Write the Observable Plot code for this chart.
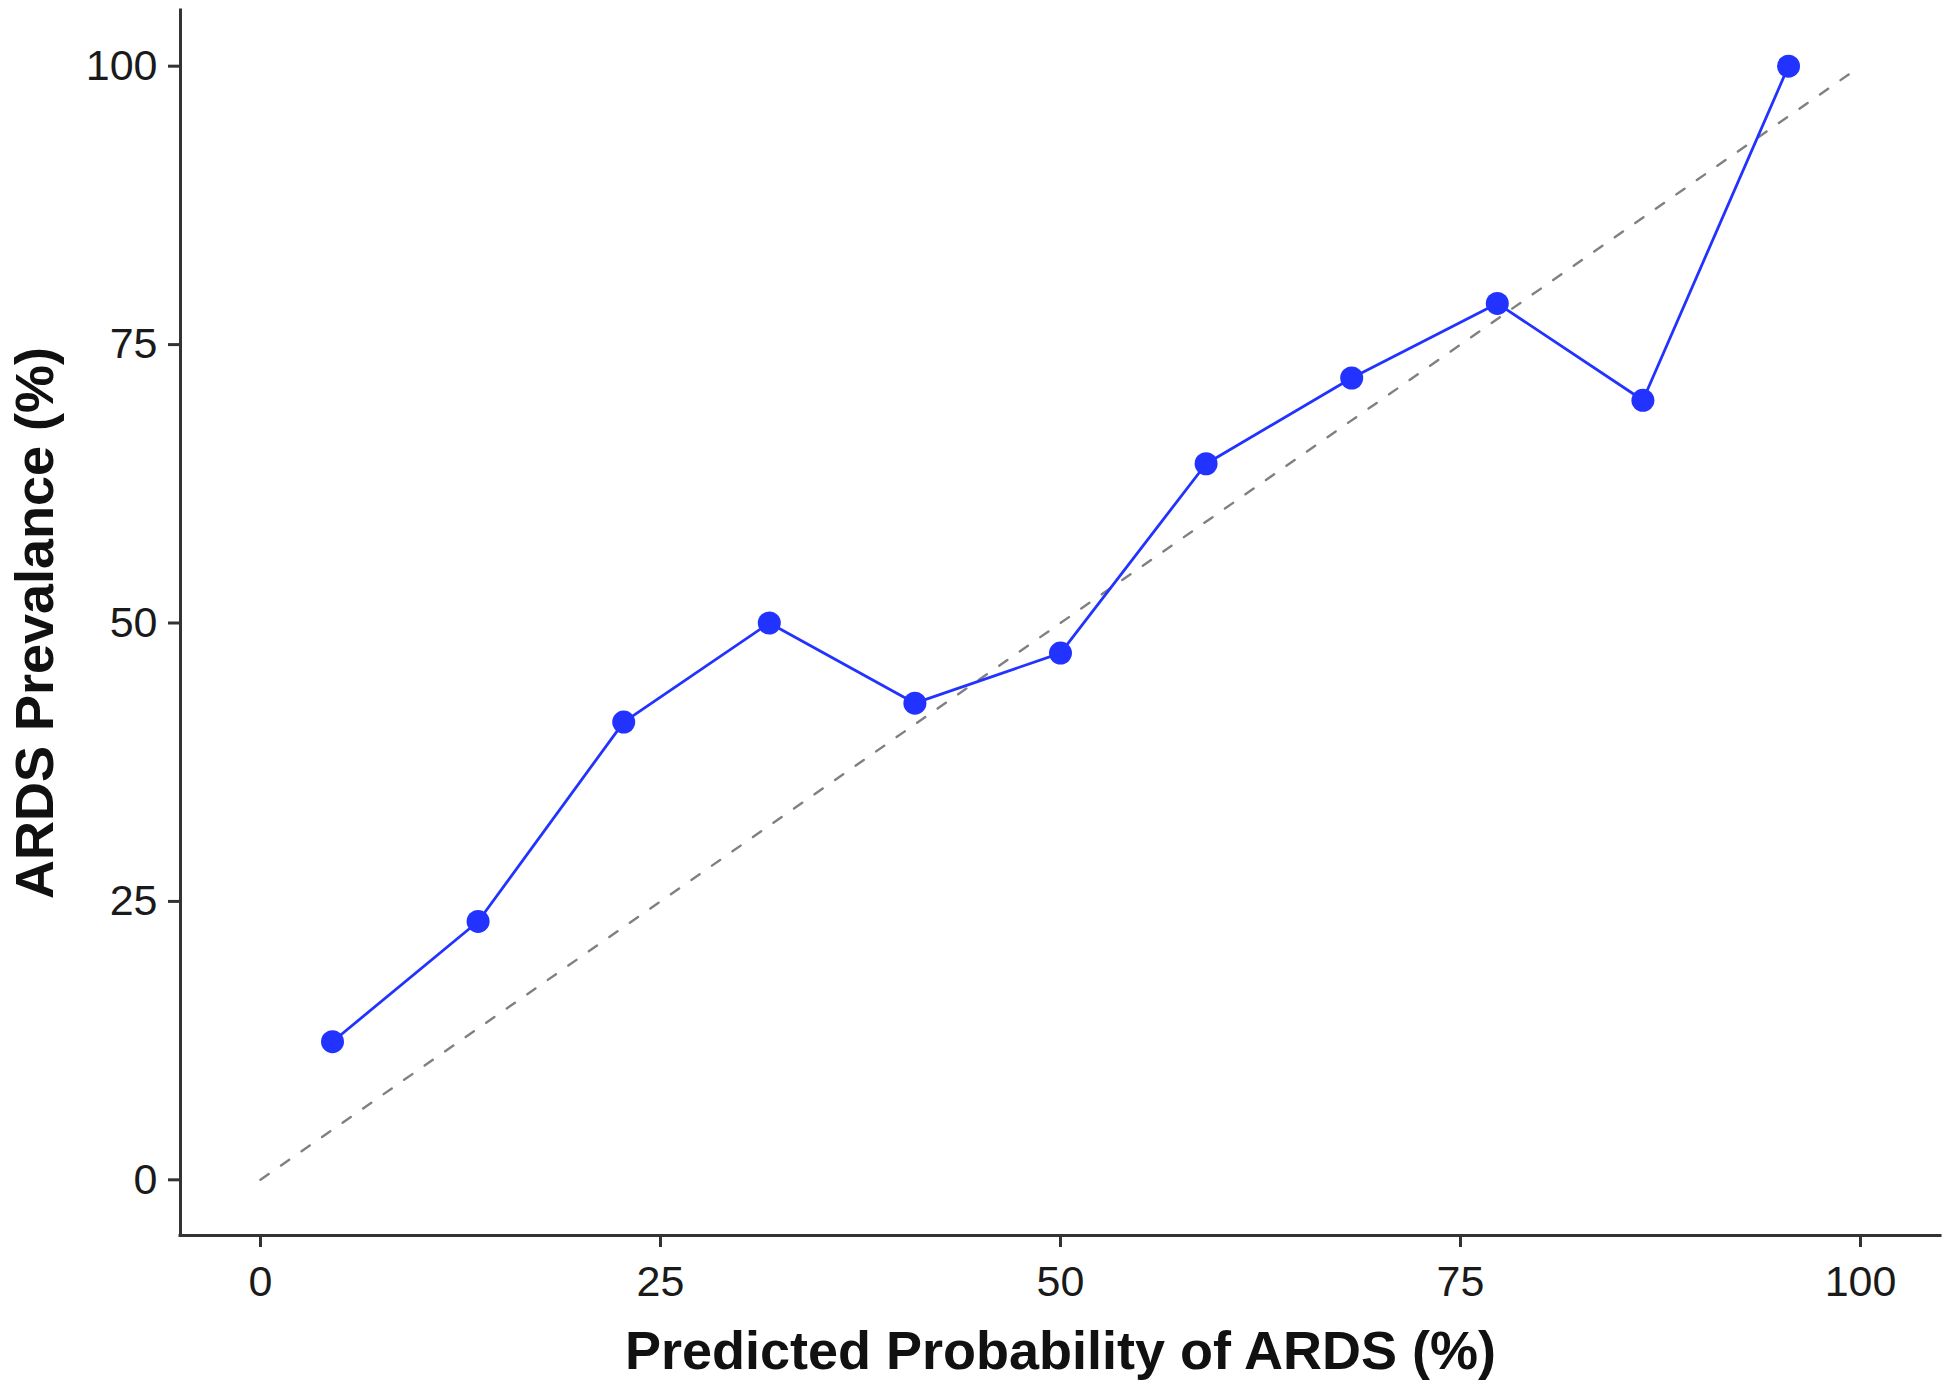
<!DOCTYPE html>
<html>
<head>
<meta charset="utf-8">
<script src="https://cdn.jsdelivr.net/npm/d3@7"></script>
<script src="https://cdn.jsdelivr.net/npm/@observablehq/plot@0.6"></script>
<style>
  html, body { margin: 0; padding: 0; background: #ffffff; }
  #chart svg { display: block; }
</style>
</head>
<body>
<div id="chart"></div>
<script>
// Calibration data
const predicted = [4.5, 13.6, 22.7, 31.8, 40.9, 50.0, 59.1, 68.2, 77.3, 86.4, 95.5];
const observed  = [12.4, 23.2, 41.1, 50.0, 42.8, 47.3, 64.3, 72.0, 78.7, 70.0, 100.0];

// Ideal calibration reference line
const refX = [0, 100];
const refY = [0, 100];

const xTicks = [0, 25, 50, 75, 100];
const yTicks = [0, 25, 50, 75, 100];
const xDomain = [-5, 105];
const yDomain = [-5, 105];

const xTitle = "Predicted Probability of ARDS (%)";
const yTitle = "ARDS Prevalance (%)";

const points = predicted.map((p, i) => ({p, o: observed[i]}));
const ref = refX.map((x, i) => ({x, y: refY[i]}));

const blue = "#2233ff";
const axisColor = "#333333";
const textColor = "#1a1a1a";

const chart = Plot.plot({
  width: 1950,
  height: 1391,
  marginLeft: 180,
  marginRight: 10,
  marginTop: 10,
  marginBottom: 156,
  style: {fontFamily: "'Liberation Sans', Arial, Helvetica, sans-serif", background: "#ffffff", overflow: "visible"},
  x: {domain: xDomain},
  y: {domain: yDomain},
  marks: [
    Plot.ruleX([xDomain[0]], {stroke: axisColor, strokeWidth: 3, strokeLinecap: "square"}),
    Plot.ruleY([yDomain[0]], {stroke: axisColor, strokeWidth: 3, strokeLinecap: "square"}),
    Plot.axisX({ticks: xTicks, tickSize: 12, tickPadding: 18, fontSize: 43, label: null,
                stroke: axisColor, strokeWidth: 3, fill: textColor}),
    Plot.axisY({ticks: yTicks, tickSize: 12, tickPadding: 11, fontSize: 43, label: null,
                stroke: axisColor, strokeWidth: 3, fill: textColor}),
    Plot.line(ref, {x: "x", y: "y", stroke: "#808080", strokeWidth: 2.4, strokeDasharray: "10,15"}),
    Plot.line(points, {x: "p", y: "o", stroke: blue, strokeWidth: 2.8}),
    Plot.dot(points, {x: "p", y: "o", r: 11.5, fill: blue}),
    Plot.text([xTitle], {text: d => d, frameAnchor: "bottom", textAnchor: "middle", lineAnchor: "middle",
                         dy: 116, fontSize: 54, fontWeight: "bold", fill: "#111"}),
    Plot.text([yTitle], {text: d => d, frameAnchor: "left", textAnchor: "middle", lineAnchor: "middle",
                         dx: -145, rotate: -90, fontSize: 54, fontWeight: "bold", fill: "#111"})
  ]
});

document.getElementById("chart").appendChild(chart);
</script>
</body>
</html>
